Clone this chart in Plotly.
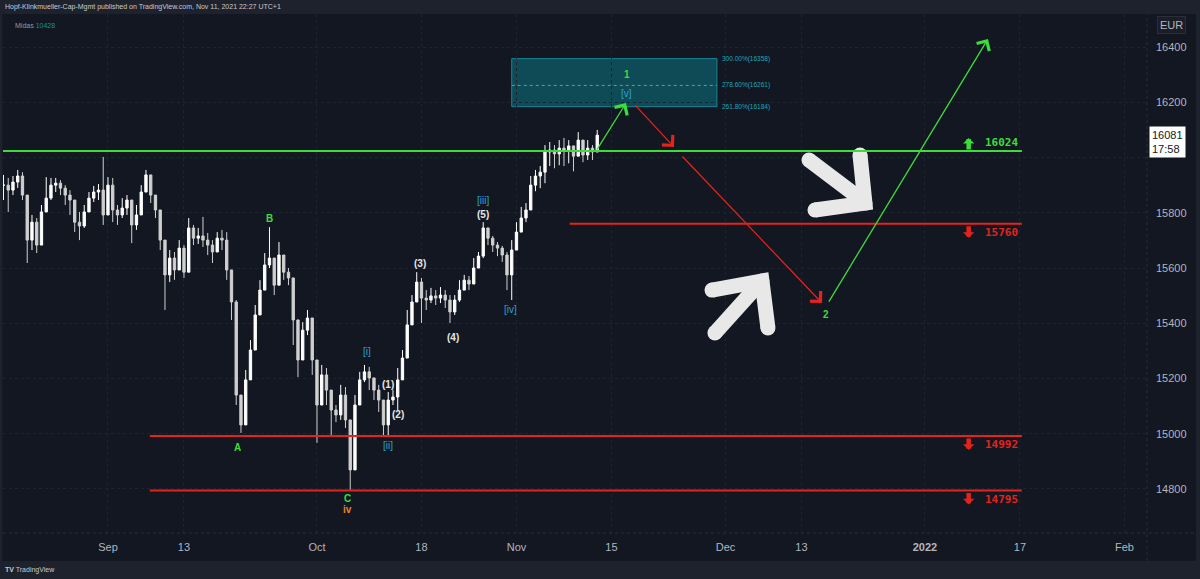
import plotly.graph_objects as go
import numpy as np

# ---------------- data ----------------
# bar position in trading days (0 = 1 Sep 2021), two bars per trading day
start_day = -11.0
close = [15900, 15882, 15911, 15933, 15864, 15701, 15766, 15683, 15803, 15853,
         15900, 15907, 15889, 15864, 15846, 15766, 15752, 15803, 15853, 15875,
         15882, 15792, 15900, 15810, 15792, 15817, 15846, 15756, 15792, 15875,
         15937, 15864, 15810, 15701, 15575, 15636, 15593, 15672, 15585, 15745,
         15708, 15716, 15701, 15683, 15658, 15708, 15701, 15593, 15477, 15140,
         15032, 15195, 15303, 15430, 15520, 15611, 15636, 15538, 15647, 15585,
         15564, 15412, 15267, 15375, 15419, 15267, 15104, 15213, 15158, 15086,
         15068, 15140, 15050, 14869, 15104, 15195, 15224, 15202, 15158, 15122,
         15032, 15122, 15133, 15195, 15274, 15394, 15477, 15549, 15491, 15484,
         15499, 15491, 15502, 15484, 15441, 15484, 15520, 15556, 15542, 15600,
         15643, 15745, 15708, 15683, 15672, 15647, 15575, 15665, 15730, 15781,
         15810, 15900, 15933, 15947, 16020, 16027, 16013, 16034, 16027, 16042,
         16005, 16063, 16009, 16034, 16020, 16081]
high = [15937, 15926, 15933, 15955, 15947, 15864, 15792, 15781, 15828, 15929,
        15926, 15926, 15918, 15900, 15882, 15846, 15803, 15828, 15875, 15897,
        15904, 16002, 15929, 15926, 15828, 15853, 15864, 15846, 15828, 15900,
        15955, 15937, 15864, 15810, 15701, 15665, 15658, 15701, 15683, 15781,
        15756, 15745, 15785, 15727, 15701, 15730, 15738, 15730, 15564, 15484,
        15140, 15231, 15339, 15466, 15556, 15654, 15748, 15600, 15694, 15647,
        15600, 15564, 15303, 15404, 15448, 15412, 15267, 15249, 15238, 15148,
        15104, 15177, 15169, 15050, 15140, 15224, 15249, 15242, 15202, 15177,
        15122, 15151, 15158, 15238, 15303, 15448, 15502, 15585, 15564, 15520,
        15528, 15520, 15531, 15520, 15502, 15502, 15556, 15575, 15571, 15636,
        15658, 15766, 15745, 15716, 15694, 15680, 15658, 15701, 15766, 15821,
        15835, 15933, 15955, 15969, 16045, 16056, 16045, 16063, 16071, 16063,
        16034, 16092, 16045, 16063, 16045, 16100]
low = [15846, 15803, 15864, 15890, 15846, 15618, 15665, 15654, 15683, 15828,
       15846, 15875, 15864, 15828, 15792, 15730, 15701, 15745, 15810, 15839,
       15846, 15756, 15828, 15766, 15756, 15781, 15792, 15690, 15738, 15810,
       15882, 15835, 15781, 15665, 15448, 15549, 15557, 15611, 15564, 15593,
       15683, 15687, 15676, 15647, 15618, 15672, 15665, 15557, 15412, 15104,
       15003, 15140, 15249, 15394, 15484, 15564, 15600, 15502, 15575, 15557,
       15538, 15321, 15205, 15332, 15357, 15213, 14967, 15104, 15104, 14988,
       15042, 15050, 15021, 14796, 14995, 15122, 15187, 15158, 15122, 15079,
       14988, 14988, 15104, 15086, 15224, 15321, 15430, 15484, 15401, 15448,
       15473, 15466, 15473, 15455, 15401, 15430, 15477, 15520, 15520, 15549,
       15611, 15636, 15683, 15658, 15643, 15622, 15520, 15484, 15683, 15738,
       15766, 15817, 15878, 15889, 15907, 15969, 15961, 15972, 15969, 15979,
       15950, 16027, 15983, 15991, 15991, 16027]

support_green = [16024]
levels_red = [15760, 14992, 14795]
fib_levels = [16358, 16261, 16184]
fib_pcts = ["300.00%", "278.60%", "261.80%"]
last_price = 16081
last_time = "17:58"

tick_days = [0, 8, 22, 33, 43, 53, 65, 73, 86, 96, 107]
tick_text = ["Sep", "13", "Oct", "18", "Nov", "15", "Dec", "13", "<b>2022</b>", "17", "Feb"]
price_ticks = [14800, 15000, 15200, 15400, 15600, 15800, 16000, 16200, 16400]

# wave counts: (text, day, price, kind)
wave_labels = [
    ("A", 13.6, 14952, "g"), ("B", 16.95, 15781, "g"),
    ("C", 25.26, 14767, "g"), ("iv", 25.26, 14724, "o"),
    ("[i]", 27.26, 15296, "t"), ("[ii]", 29.47, 14959, "t"),
    ("(1)", 29.47, 15180, "w"), ("(2)", 30.53, 15071, "w"),
    ("(3)", 32.84, 15618, "w"), ("(4)", 36.32, 15350, "w"),
    ("(5)", 39.47, 15795, "w"), ("[iii]", 39.47, 15843, "t"),
    ("[iv]", 42.32, 15448, "t"), ("1", 54.6, 16299, "g"),
    ("[v]", 54.6, 16233, "t"), ("2", 75.6, 15430, "g"),
]

# projected path (day, price)
path_up1 = [(51.37, 16023), (54.53, 16197)]
path_dn1 = [(55.37, 16194), (59.58, 16038)]
path_dn2 = [(60.32, 16009), (75.16, 15473)]
path_up2 = [(75.79, 15473), (92.63, 16429)]

# ---------------- styling ----------------
BG = "#131722"
PANEL = "#1e222d"
GREEN = "#3ddc3d"
RED = "#e3231c"
TEAL = "#2aa5c8"
WHITE = "#e6e6e6"
ORANGE = "#e8821e"
colors = {"g": GREEN, "t": TEAL, "w": WHITE, "o": ORANGE}

x = start_day + 0.5 * np.arange(len(close))
opens = [close[0]] + close[:-1]
hi = [max(h, o, c) for h, o, c in zip(high, opens, close)]
lo = [min(l, o, c) for l, o, c in zip(low, opens, close)]

X0, X1 = -11.05, 109.37
Y0, Y1 = 14640.7, 16519.5

fig = go.Figure()
fig.add_trace(go.Candlestick(
    x=x, open=opens, high=hi, low=lo, close=close,
    increasing=dict(line=dict(color="#ffffff", width=1), fillcolor="#ffffff"),
    decreasing=dict(line=dict(color="#d0d0d0", width=1), fillcolor="#d0d0d0"),
    whiskerwidth=0, showlegend=False, hoverinfo="skip"))

shapes = []
# panels
shapes.append(dict(type="rect", xref="paper", yref="paper", x0=-0.01, x1=1.05,
                   y0=1.0, y1=1.04, fillcolor=PANEL, line_width=0, layer="below"))
shapes.append(dict(type="rect", xref="paper", yref="paper", x0=-0.01, x1=1.05,
                   y0=-0.1, y1=-0.054, fillcolor=PANEL, line_width=0, layer="below"))
shapes.append(dict(type="rect", xref="paper", yref="paper", x0=-0.01, x1=-0.0005,
                   y0=-0.1, y1=1.04, fillcolor=PANEL, line_width=0, layer="below"))
shapes.append(dict(type="rect", xref="paper", yref="paper", x0=1.0427, x1=1.05,
                   y0=-0.1, y1=1.04, fillcolor=PANEL, line_width=0, layer="below"))
# axis separators
shapes.append(dict(type="line", xref="paper", yref="paper", x0=0, x1=1.0427, y0=0, y1=0,
                   line=dict(color="#2a2e39", width=1, dash="dot")))
shapes.append(dict(type="line", xref="paper", yref="paper", x0=1, x1=1, y0=-0.054, y1=1,
                   line=dict(color="#2a2e39", width=1, dash="dot")))

# fib box
shapes.append(dict(type="rect", x0=42.5, x1=64.1, y0=fib_levels[2], y1=fib_levels[0],
                   fillcolor="#0f4b57", line=dict(color="#1b8494", width=1), layer="below"))
shapes.append(dict(type="line", x0=42.5, x1=64.1, y0=fib_levels[1], y1=fib_levels[1],
                   line=dict(color="#2bb3c9", width=1, dash="dot")))

# horizontal levels
for lv in support_green:
    shapes.append(dict(type="line", x0=X0, x1=96.2, y0=lv, y1=lv,
                       line=dict(color=GREEN, width=2)))
red_starts = [48.6, 4.4, 4.4]
for lv, xs in zip(levels_red, red_starts):
    shapes.append(dict(type="line", x0=xs, x1=96.2, y0=lv, y1=lv,
                       line=dict(color=RED, width=2)))

annotations = []
# header
annotations.append(dict(xref="paper", yref="paper", x=0.0, y=1.0, yshift=7, xanchor="left",
                        yanchor="middle", showarrow=False,
                        text="Hopf-Klinkmueller-Cap-Mgmt published on TradingView.com, Nov 11, 2021 22:27 UTC+1",
                        font=dict(size=7, color="#c8cad0", family="Liberation Sans")))
annotations.append(dict(xref="paper", yref="paper", x=0.009, y=1.0, yshift=-11, xanchor="left",
                        yanchor="middle", showarrow=False,
                        text="Midas <span style='color:#1e8c9c'>10428</span>",
                        font=dict(size=7, color="#9598a1", family="Liberation Sans")))
annotations.append(dict(xref="paper", yref="paper", x=0.0, y=-0.0886, yshift=9, xanchor="left",
                        yanchor="middle", showarrow=False,
                        text="<b>TV</b> TradingView",
                        font=dict(size=7, color="#c8cad0", family="Liberation Sans")))
# EUR box
annotations.append(dict(xref="paper", yref="paper", x=1.0218, y=1.0, yshift=-11, xanchor="center",
                        yanchor="middle", showarrow=False, text="EUR",
                        font=dict(size=11, color="#b2b5be", family="Liberation Sans"),
                        bgcolor="#1a1e29", bordercolor="#2a2e39", borderwidth=1, borderpad=2))
# last price label
annotations.append(dict(xref="paper", yref="y", x=1.0018, y=last_price, yshift=-7,
                        xanchor="left", yanchor="middle", showarrow=False, align="left",
                        text=f"{last_price}<br>{last_time}",
                        font=dict(size=11, color="#131722", family="Liberation Sans"),
                        bgcolor="#ffffff", borderpad=2))

# fib labels
for lv, pc in zip(fib_levels, fib_pcts):
    annotations.append(dict(x=64.4, y=lv, xanchor="left", yanchor="middle", showarrow=False,
                            text=f"{pc}({lv})",
                            font=dict(size=6.5, color="#22a4b8", family="Liberation Sans")))

# wave labels
for t, d, p, k in wave_labels:
    bold = k in ("w", "g", "o")
    annotations.append(dict(x=d, y=p, showarrow=False, xanchor="center", yanchor="middle",
                            text=f"<b>{t}</b>" if bold else t,
                            font=dict(size=10, color=colors[k], family="Liberation Sans")))

# level labels with block arrows
for lv in support_green:
    annotations.append(dict(x=94.1, y=lv, yshift=8, showarrow=False, text=f"<b>{lv}</b>",
                            font=dict(size=11, color=GREEN, family="DejaVu Sans Mono")))
    annotations.append(dict(x=90.6, y=lv, yshift=13, ax=0, ay=13, text="", showarrow=True,
                            arrowhead=1, arrowwidth=4.5, arrowsize=0.42, arrowcolor=GREEN))
for lv in levels_red:
    annotations.append(dict(x=94.1, y=lv, yshift=-9, showarrow=False, text=f"<b>{lv}</b>",
                            font=dict(size=11, color=RED, family="DejaVu Sans Mono")))
    annotations.append(dict(x=90.6, y=lv, yshift=-14, ax=0, ay=-13, text="", showarrow=True,
                            arrowhead=1, arrowwidth=4.5, arrowsize=0.42, arrowcolor=RED))

# projected path arrows
for seg, col in ((path_up1, GREEN), (path_dn1, RED), (path_dn2, RED), (path_up2, GREEN)):
    (xa, ya), (xb, yb) = seg
    annotations.append(dict(x=xb, y=yb, ax=xa, ay=ya, axref="x", ayref="y", text="",
                            showarrow=True, arrowhead=4, arrowsize=2.2, arrowwidth=1.3,
                            arrowcolor=col))

# big white hand-drawn arrows (drawings)
big_arrows = [
    [[(73.79, 15991), (79.37, 15846)], [(79.16, 16009), (79.68, 15835), (74.42, 15810)]],
    [[(63.89, 15365), (68.63, 15546)], [(63.58, 15520), (68.84, 15553), (69.47, 15383)]],
]
for arrow in big_arrows:
    for stroke in arrow:
        fig.add_trace(go.Scatter(x=[p[0] for p in stroke], y=[p[1] for p in stroke],
                                 mode="lines+markers",
                                 line=dict(color="#e8e8e8", width=15),
                                 marker=dict(size=15, color="#e8e8e8"),
                                 showlegend=False, hoverinfo="skip"))

fig.update_layout(
    width=1200, height=579,
    margin=dict(l=3, r=53, t=14, b=46),
    paper_bgcolor=BG, plot_bgcolor=BG,
    shapes=shapes, annotations=annotations,
    showlegend=False,
    font=dict(family="Liberation Sans", color="#b2b5be", size=11),
    xaxis=dict(range=[X0, X1], tickmode="array", tickvals=tick_days, ticktext=tick_text,
               showgrid=True, gridcolor="#1f2330", griddash="dot", zeroline=False,
               rangeslider=dict(visible=False), showline=False, ticks="",
               tickfont=dict(size=11, color="#b2b5be"), ticklabelstandoff=6, fixedrange=True),
    yaxis=dict(range=[Y0, Y1], side="right", tickmode="array", tickvals=price_ticks,
               ticktext=["" if v == 16000 else str(v) for v in price_ticks],
               showgrid=True, gridcolor="#1f2330", griddash="dot", zeroline=False,
               showline=False, ticks="", tickfont=dict(size=11, color="#b2b5be"),
               ticklabelstandoff=8, fixedrange=True),
)

fig.write_html("out.html")
